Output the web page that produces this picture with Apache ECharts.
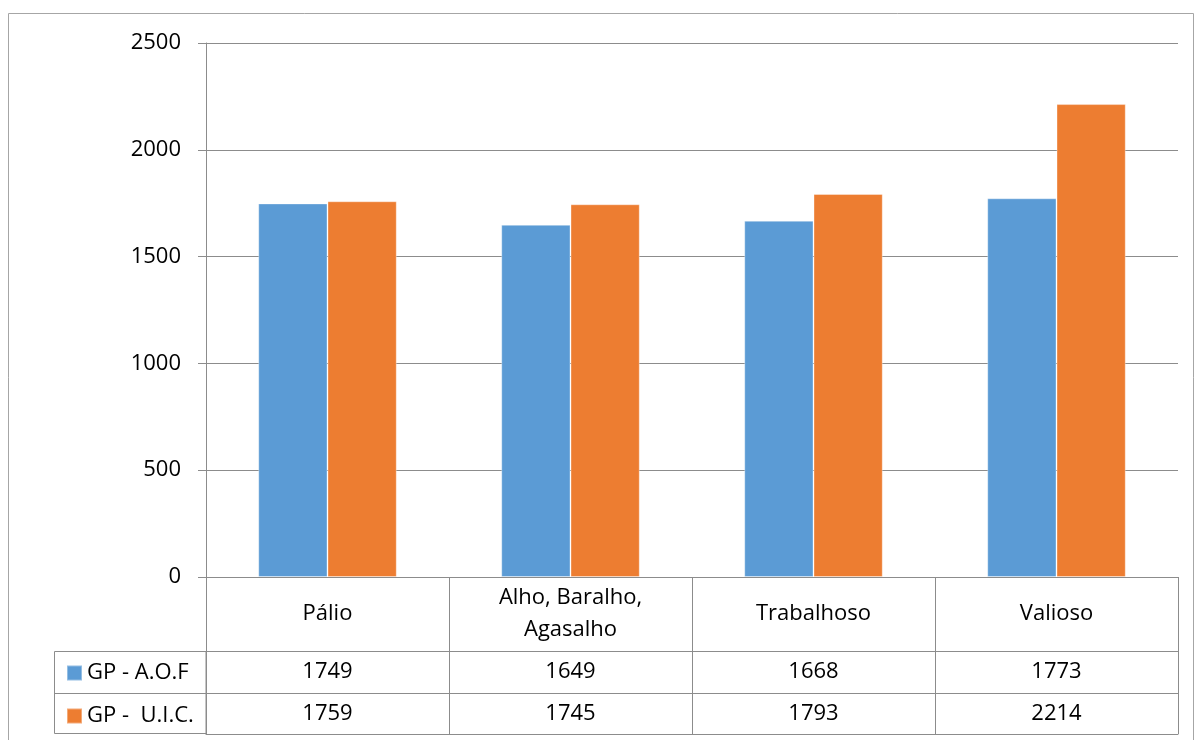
<!DOCTYPE html>
<html>
<head>
<meta charset="utf-8">
<script src="https://cdn.jsdelivr.net/npm/echarts@6/dist/echarts.min.js"></script>
<style>html,body{margin:0;padding:0;background:#fff;}#c{width:1194px;height:740px;}</style>
</head>
<body>
<div id="c"></div>
<script>
const categories = ['Pálio', 'Alho, Baralho,\nAgasalho', 'Trabalhoso', 'Valioso'];
const seriesNames = ['GP - A.O.F', 'GP -  U.I.C.'];
const aofValues = [1749, 1649, 1668, 1773];
const uicValues = [1759, 1745, 1793, 2214];
const yTicks = [0, 500, 1000, 1500, 2000, 2500];

const FONT = '"Open Sans", sans-serif';
const LINE = '#8c8c8c';
const chart = echarts.init(document.getElementById('c'), null, {renderer: 'canvas'});
const tableAxis = (offset, values, showLine) => ({
  type: 'category', data: categories, position: 'bottom', offset: offset,
  axisLine: {show: showLine, lineStyle: {color: LINE, width: 1}},
  axisTick: {show: false},
  axisLabel: values ? {
    show: true, margin: 21, verticalAlign: 'middle', color: '#000',
    fontFamily: FONT, fontSize: 22, interval: 0,
    formatter: (v, i) => String(values[i])
  } : {show: false},
  splitLine: {show: false}
});
chart.setOption({
  animation: false,
  backgroundColor: '#fff',
  color: ['#5B9BD5', '#ED7D31'],
  grid: {left: 206, right: 16, top: 43, bottom: 163, containLabel: false},
  legend: {
    orient: 'vertical', left: 61, top: 657, itemGap: 21,
    icon: 'rect', itemWidth: 15, itemHeight: 15,
    textStyle: {fontFamily: FONT, fontSize: 22, color: '#000', lineHeight: 22},
    data: seriesNames
  },
  xAxis: [
    {
      type: 'category', data: categories, position: 'bottom',
      axisLine: {show: true, lineStyle: {color: LINE, width: 1}},
      axisTick: {show: true, length: 157, inside: false, lineStyle: {color: LINE, width: 1}},
      axisLabel: {
        show: true, margin: 37, verticalAlign: 'middle', color: '#000', interval: 0,
        fontFamily: FONT, fontSize: 22, lineHeight: 32
      },
      splitLine: {show: false}
    },
    tableAxis(74, aofValues, true),
    tableAxis(116, uicValues, true),
    tableAxis(157, null, true)
  ],
  yAxis: {
    type: 'value', min: 0, max: 2500, interval: 500,
    axisLine: {show: true, lineStyle: {color: LINE, width: 1}},
    axisTick: {show: true, length: 8, lineStyle: {color: LINE}},
    axisLabel: {
      margin: 25, color: '#000', fontFamily: FONT, fontSize: 22,
      formatter: v => yTicks.includes(v) ? String(v) : ''
    },
    splitLine: {show: true, lineStyle: {color: LINE, width: 1}}
  },
  series: [
    {name: seriesNames[0], type: 'bar', data: aofValues, barGap: '0%', barCategoryGap: '43%',
     itemStyle: {borderColor: 'rgba(255,255,255,0.35)', borderWidth: 1}},
    {name: seriesNames[1], type: 'bar', data: uicValues, barGap: '0%', barCategoryGap: '43%',
     itemStyle: {borderColor: 'rgba(255,255,255,0.35)', borderWidth: 1}}
  ],
  graphic: [
    {type: 'rect', silent: true, z: 0, shape: {x: 8.5, y: 13.5, width: 1185, height: 740},
     style: {fill: null, stroke: '#a6a6a6', lineWidth: 1}},
    {type: 'rect', silent: true, shape: {x: 54.5, y: 651.5, width: 151.5, height: 82},
     style: {fill: null, stroke: LINE, lineWidth: 1}},
    {type: 'line', silent: true, shape: {x1: 54.5, y1: 693.5, x2: 206, y2: 693.5},
     style: {stroke: LINE, lineWidth: 1}}
  ]
});
</script>
</body>
</html>
